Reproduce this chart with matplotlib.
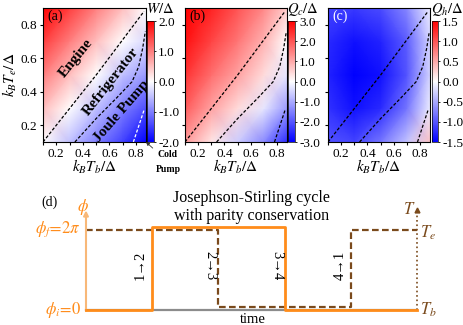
import matplotlib.pyplot as plt
import numpy as np

plt.rcParams['font.family'] = ['Liberation Serif', 'DejaVu Serif']
plt.rcParams['mathtext.fontset'] = 'stix'
plt.rcParams['axes.unicode_minus'] = False

# bath temperatures k_B T / Delta on a coarse grid
tb_grid = [0.1, 0.3, 0.5, 0.7, 0.875]
te_grid = [0.1, 0.3, 0.5, 0.7, 0.9]

# rows follow te_grid (bottom to top), columns follow tb_grid
work = [[0.0, -0.5, -1.0, -1.5, -2.0],
        [0.5, 0.0, -0.5, -1.0, -1.4],
        [1.0, 0.5, 0.0, -0.5, -0.8],
        [1.5, 1.0, 0.5, 0.0, -0.3],
        [2.0, 1.5, 1.0, 0.5, 0.0]]
heat_c = [[1.2, 0.3, -0.6, -1.4, -2.5],
          [1.9, 1.1, 0.4, -0.3, -1.2],
          [2.4, 1.7, 1.1, 0.4, -0.3],
          [2.8, 2.2, 1.6, 0.9, 0.0],
          [3.0, 2.6, 2.0, 1.4, 0.6]]
heat_h = [[-1.0, -1.1, -0.8, -0.35, 0.35],
          [-1.2, -1.4, -1.25, -0.8, -0.1],
          [-1.3, -1.5, -1.4, -1.0, -0.25],
          [-1.25, -1.4, -1.3, -0.95, -0.25],
          [-1.1, -1.15, -1.05, -0.7, -0.1]]

# regime boundaries
engine_tb = [0.1, 0.5, 0.86]
engine_te = [0.1, 0.5, 0.88]
fridge_tb = [0.34, 0.5, 0.65, 0.77, 0.82, 0.85, 0.87]
fridge_te = [0.1, 0.24, 0.36, 0.46, 0.55, 0.66, 0.76]
pump_tb = [0.78, 0.86]
pump_te = [0.1, 0.29]

# cycle in panel (d)
t_phi = [0.0, 0.2, 0.6, 1.0]
phi_lvl = [0.0, 1.0, 0.0, 0.0]
t_temp = [0.0, 0.4, 0.8, 1.0]
temp_lvl = [0.964, 0.036, 0.964, 0.964]

W, H = 463, 325
fig = plt.figure(figsize=(W / 100, H / 100), dpi=100)


def box(l, t, r, b):
    return [l / W, 1 - b / H, (r - l) / W, (b - t) / H]


panels = [
    (work, 2.0, [2.0, 1.0, 0.0, -1.0, -2.0], r'$W/\Delta$', '(a)', 'black',
     (43, 146), (147, 154)),
    (heat_c, 3.0, [3.0, 2.0, 1.0, 0.0, -1.0, -2.0, -3.0], r'$Q_c/\Delta$', '(b)', 'black',
     (185, 287), (288, 295)),
    (heat_h, 1.5, [1.5, 1.0, 0.5, 0.0, -0.5, -1.0, -1.5], r'$Q_h/\Delta$', '(c)', 'white',
     (328, 430), (432, 438)),
]

for k, (field, vmax, cticks, clabel, tag, tagcol, (l, r), (cl, cr)) in enumerate(panels):
    ax = fig.add_axes(box(l, 8, r, 142))
    mesh = ax.pcolormesh(tb_grid, te_grid, np.array(field), shading='gouraud',
                         cmap='bwr', vmin=-vmax, vmax=vmax, rasterized=True)
    ax.set_xlim(0.1, 0.875)
    ax.set_ylim(0.1, 0.9)
    ax.set_xticks([0.2, 0.4, 0.6, 0.8])
    ax.set_xticks([0.1, 0.3, 0.5, 0.7], minor=True)
    ax.set_yticks([0.2, 0.4, 0.6, 0.8])
    ax.tick_params(which='both', direction='out', length=2.5, width=0.8,
                   labelsize=9.5, pad=1.5)
    ax.set_xlabel(r'$k_BT_b/\Delta$', fontsize=11, labelpad=-1)
    if k == 0:
        ax.set_ylabel(r'$k_BT_e/\Delta$', fontsize=11, labelpad=1)
    else:
        ax.set_yticklabels([])
    lc = 'white' if k == 0 else 'black'
    ax.plot(engine_tb, engine_te, ls=(0, (2.5, 1.5)), color='black', lw=0.9)
    ax.plot(fridge_tb, fridge_te, ls=(0, (2.5, 1.5)), color='black', lw=0.9)
    ax.plot(pump_tb, pump_te, ls=(0, (2.5, 1.5)), color=lc, lw=0.9)
    ax.text(0.04, 0.985, tag, transform=ax.transAxes, ha='left', va='top',
            fontsize=10, color=tagcol)

    cax = fig.add_axes(box(cl, 21, cr, 142))
    cb = fig.colorbar(mesh, cax=cax, ticks=cticks)
    cb.outline.set_linewidth(0.5)
    cb.ax.tick_params(length=1.5, width=0.6, labelsize=9.5, pad=1.5)
    cb.ax.set_yticklabels(['%.1f' % v for v in cticks])
    fig.text((cl - 1) / W, 1 - 9 / H, clabel, ha='left', va='center', fontsize=10.5)

    if k == 0:
        bold = dict(fontsize=11, fontweight='bold', ha='center', va='center')
        ax.text(0.35, 0.60, 'Engine', rotation=51, **bold)
        ax.text(0.61, 0.46, 'Refrigerator', rotation=52, **bold)
        ax.text(0.69, 0.28, 'Joule Pump', rotation=49, **bold)
        ax.annotate('Cold\nPump', xy=(0.875, 0.1), xycoords='data',
                    xytext=(168 / W, 1 - 162 / H), textcoords='figure fraction',
                    ha='center', va='center', fontsize=7, fontweight='bold',
                    linespacing=1.9, annotation_clip=False,
                    arrowprops=dict(arrowstyle='-|>', color='#333333', lw=0.6,
                                    mutation_scale=5, shrinkA=8, shrinkB=0))

# panel (d): Josephson-Stirling cycle
axd = fig.add_axes(box(86, 227, 417, 310))
axd.set_xlim(0, 1)
axd.set_ylim(0, 1)
axd.axis('off')

orange = '#ff8c1a'
brown = '#7a4a1c'
axd.plot([0, 1], [0, 0], color='#8c8c8c', lw=1.6, clip_on=False, zorder=1)
axd.annotate('', xy=(0, 1.2), xytext=(0, -0.01),
             arrowprops=dict(arrowstyle='-|>', color='#f8b878', lw=1.5,
                             mutation_scale=7, shrinkA=0, shrinkB=0),
             annotation_clip=False)
axd.plot([1, 1], [0, 1.18], color=brown, lw=1.2, ls=':', clip_on=False)
axd.plot([1], [1.2], marker='^', color=brown, ms=3.5, clip_on=False)
axd.step(t_temp, temp_lvl, where='post', color=brown, lw=1.6,
         ls=(0, (3, 1.5)), clip_on=False, zorder=2)
axd.step(t_phi, phi_lvl, where='post', color=orange, lw=2.0,
         clip_on=False, zorder=3)

axd.text(-0.015, 0.97, r'$\phi_f\!=\!2\pi$', color=orange, fontsize=12,
         ha='right', va='center')
axd.text(-0.015, 0.0, r'$\phi_i\!=\!0$', color=orange, fontsize=12,
         ha='right', va='center')
axd.text(-0.01, 1.24, r'$\phi$', color=orange, fontsize=12,
         ha='center', va='center')
axd.text(-0.11, 1.30, '(d)', fontsize=10, ha='center', va='center')
axd.text(0.995, 1.20, r'$T$', color=brown, fontsize=12, ha='right', va='center')
axd.text(1.01, 0.93, r'$T_e$', color=brown, fontsize=12, ha='left', va='center')
axd.text(1.01, 0.0, r'$T_b$', color=brown, fontsize=12, ha='left', va='center')
axd.text(0.505, -0.12, 'time', fontsize=10.5, ha='center', va='center')
axd.text(0.50, 1.245, 'Josephson-Stirling cycle\nwith parity conservation',
         fontsize=11.5, ha='center', va='center', linespacing=1.15)

step_x = [0.163, 0.375, 0.577, 0.767]
step_txt = ['1→2', '2→3', '3→4', '4→1']
step_rot = [90, -90, -90, 90]
for x, s, rot in zip(step_x, step_txt, step_rot):
    axd.text(x, 0.54, s, rotation=rot, fontsize=10.5, ha='center', va='center')

fig.savefig('out.png', dpi=100)
